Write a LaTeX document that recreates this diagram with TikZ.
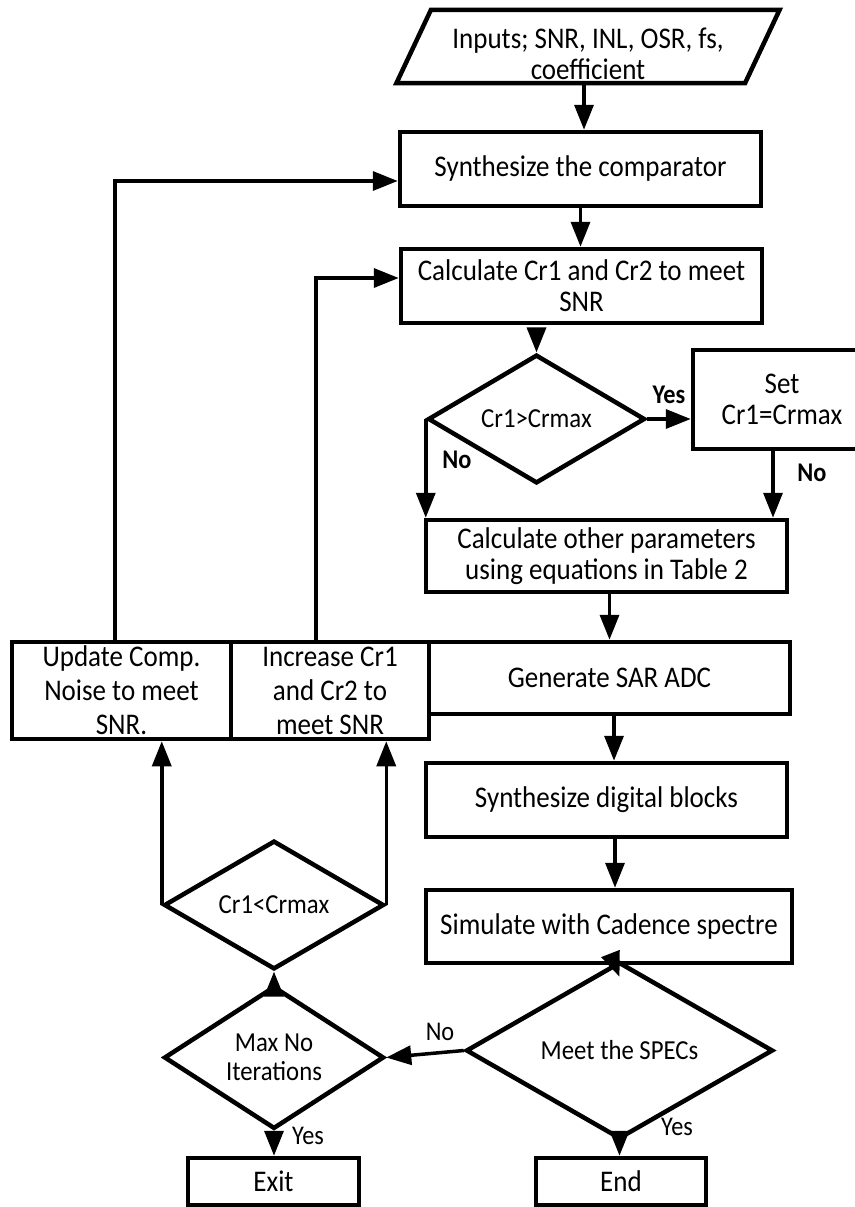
\documentclass[tikz,border=0pt]{standalone}
\usepackage{fontspec}
\setmainfont{Carlito}[FakeStretch=0.9]
\usetikzlibrary{shapes.geometric,arrows.meta}
\begin{document}
\begin{tikzpicture}[x=1pt,y=-1pt,line join=miter,
    box/.style={draw,line width=4.5pt,rectangle,align=center,inner sep=2pt,
        font=\fontsize{30}{31}\selectfont},
    decision/.style={draw,line width=4.5pt,diamond,align=center,inner sep=0pt,
        font=\fontsize{27.5}{29}\selectfont},
    arr/.style={line width=3.5pt,-{Triangle[length=25pt,width=19pt]}},
    lbl/.style={font=\fontsize{27}{29}\selectfont},
    blbl/.style={font=\bfseries\fontsize{27}{29}\selectfont}]
    \useasboundingbox (0,0) rectangle (854,1207);

    % main chain
    \node[draw,line width=4.5pt,trapezium,trapezium left angle=61,trapezium right angle=119,
        trapezium stretches body,minimum width=383pt,minimum height=73pt,inner sep=0pt,
        font=\fontsize{30}{31}\selectfont] (inputs) at (588,46.5)
        {\raisebox{-11pt}[\height][\depth]{\begin{tabular}{@{}c@{}}Inputs; SNR, INL, OSR, fs,\\coefficient\end{tabular}}};
    \node[box,minimum width=361pt,minimum height=74pt] (synth) at (580.5,169) {Synthesize the comparator};
    \node[box,minimum width=361pt,minimum height=74pt] (calc) at (581.5,286) {Calculate Cr1 and Cr2 to meet\\SNR};
    \node[decision,minimum width=217pt,minimum height=70pt] (cmpa) at (536.5,419) {Cr1>Crmax};
    \node[box,minimum width=178pt,minimum height=99pt] (setmax) at (782,399.5) {Set\\Cr1=Crmax};
    \node[box,minimum width=361pt,minimum height=72pt] (other) at (606.5,556) {Calculate other parameters\\using equations in Table 2};
    \node[box,minimum width=361pt,minimum height=72pt] (gen) at (609.5,678) {Generate SAR ADC};
    \node[box,minimum width=361pt,minimum height=74pt] (digital) at (606.5,800) {Synthesize digital blocks};
    \node[box,minimum width=366pt,minimum height=73pt] (sim) at (609,926.5) {Simulate with Cadence spectre};
    \node[decision,minimum width=307pt,minimum height=115pt] (spec) at (619.5,1050.5) {Meet the SPECs};
    \node[box,minimum width=170pt,minimum height=47pt] (endn) at (621,1181.5) {End};

    % feedback branch
    \node[box,minimum width=219pt,minimum height=97pt] (update) at (121.5,690.5) {Update Comp.\\[3pt]Noise to meet\\[3pt]SNR.};
    \node[box,minimum width=198pt,minimum height=97pt] (increase) at (330,690.5) {Increase Cr1\\[3pt]and Cr2 to\\[3pt]meet SNR};
    \node[decision,minimum width=220pt,minimum height=104pt] (cmpb) at (274,905) {Cr1<Crmax};
    \node[decision,minimum width=220pt,minimum height=101pt] (maxit) at (274,1057.5) {Max No\\Iterations};
    \node[box,minimum width=171pt,minimum height=47pt] (exit) at (273.5,1181.5) {Exit};

    % connectors
    \draw[arr] (inputs.south -| 584,0) -- (584,0 |- synth.north);
    \draw[arr] (synth.south) -- (synth.south |- calc.north);
    \draw[arr] ([yshift=-11pt]calc.south -| cmpa.north) -- (cmpa.north);
    \draw[arr] (cmpa.east) -- (cmpa.east -| setmax.west);
    \draw[arr] (cmpa.west) -- (cmpa.west |- other.north);
    \draw[arr] (773,0 |- setmax.south) -- (773,0 |- other.north);
    \draw[arr] (other.south -| gen.north) -- (gen.north);
    \draw[arr] (614,0 |- gen.south) -- (614,0 |- digital.north);
    \draw[arr] (615,0 |- digital.south) -- (615,0 |- sim.north);
    \draw[arr] (615,0 |- sim.south) -- ([yshift=-17pt]spec.north);
    \draw[arr] (spec.west) -- (maxit.east);
    \draw[arr] (spec.south) -- (spec.south |- endn.north);
    \draw[arr] (maxit.south) -- (maxit.south |- exit.north);
    \draw[arr] (maxit.north) -- (cmpb.south);
    \draw[arr] (cmpb.west) -- (cmpb.west |- update.south);
    \draw[arr] (cmpb.east) -- (cmpb.east |- increase.south);
    \draw[arr] (115,0 |- update.north) |- ([yshift=-12pt]synth.west);
    \draw[arr] (316,0 |- increase.north) |- ([yshift=8pt]calc.west);

    % labels
    \node[blbl] (yesa) at (669,395) {Yes};
    \node[blbl] (noa) at (457,460) {No};
    \node[blbl] (nob) at (812,473) {No};
    \node[lbl] (noc) at (440,1032) {No};
    \node[lbl] (yesb) at (308,1136) {Yes};
    \node[lbl] (yesc) at (677,1127) {Yes};
\end{tikzpicture}
\end{document}
